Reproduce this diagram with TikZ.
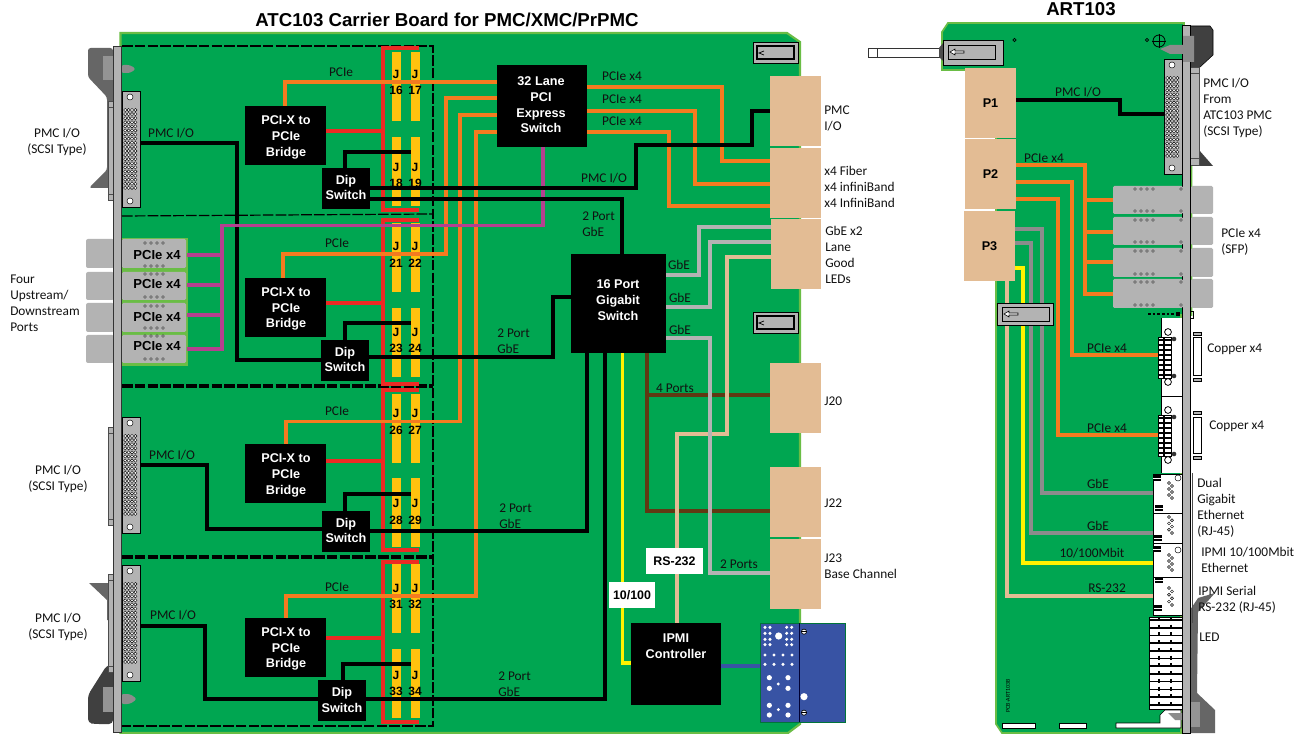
\documentclass[tikz,border=0pt]{standalone}
\usepackage{fontspec}
\setmainfont{Carlito}
\newfontfamily\arialf{Liberation Sans}
\usetikzlibrary{calc}
\definecolor{pcb}{HTML}{00A651}
\definecolor{lgreen}{HTML}{6ABD45}
\definecolor{tanb}{HTML}{E3BC94}
\definecolor{orangel}{HTML}{F47B20}
\definecolor{redl}{HTML}{ED2A24}
\definecolor{jyellow}{HTML}{FFC20E}
\definecolor{yell}{HTML}{FFF200}
\definecolor{magl}{HTML}{B5408F}
\definecolor{grayl}{HTML}{B3B3B3}
\definecolor{grayd}{HTML}{8C8C8C}
\definecolor{brownl}{HTML}{603913}
\definecolor{bluep}{HTML}{3853A4}
\definecolor{inkt}{HTML}{111111}
\pgfdeclarelayer{board}\pgfdeclarelayer{conn}
\pgfsetlayers{board,conn,main}
\tikzset{
 ln/.style={line width=2.3pt,line join=miter},
 blk/.style={ln,black},
 org/.style={ln,orangel},
 rd/.style={ln,redl},
 mg/.style={ln,magl},
 gy/.style={ln,grayl},
 gd/.style={ln,grayd},
 br/.style={ln,brownl},
 ye/.style={ln,yell},
 tl/.style={ln,tanb},
 bl/.style={ln,bluep},
 dsh/.style={line width=0.9pt,black,dash pattern=on 8pt off 1.6pt},
 box/.style={fill=black,text=white,align=center,font=\arialf\bfseries\fontsize{9.5}{12}\selectfont},
 boxt/.style={inner sep=0pt,text=white,align=center,font=\arialf\bfseries\fontsize{9.5}{11.8}\selectfont},
 tanblk/.style={fill=tanb,align=center,font=\arialf\bfseries\fontsize{9.5}{12}\selectfont},
 jbar/.style={fill=jyellow},
 jt/.style={inner sep=0pt,font=\arialf\bfseries\fontsize{9}{11}\selectfont,text=black},
 lb/.style={inner sep=0pt,text=inkt,font=\fontsize{10}{12}\selectfont},
 ll/.style={lb,anchor=west,align=left},
 lc/.style={lb,align=center},
 bt/.style={inner sep=0pt,text=black,font=\arialf\bfseries\fontsize{9.8}{12}\selectfont},
 sfp/.style={fill=grayl,rounded corners=1pt},
 wbox/.style={fill=white,text=black,font=\arialf\bfseries\fontsize{9.3}{12}\selectfont},
 hd/.style={inner sep=0pt,text=black,font=\arialf\bfseries\fontsize{14}{16}\selectfont},
 pin/.style={draw=black,fill=white,line width=.35pt},
 spin/.style={draw=black,fill=white,line width=.3pt},
}
\newcommand\bx[7]{\node[#1,inner sep=0pt,outer sep=0pt,minimum width={(#5-#3)*0.75pt},minimum height={(#6-#4)*0.75pt}] (#2) at ({(#3+#5)/2},{(#4+#6)/2}) {#7};}
\newcommand\fourdots[3]{\foreach \k in {0,1,2,3}{\draw[pin] ({#1+\k*#3},#2) circle[radius=1.4];}}
\newcommand\scsi[3]{%
 \draw[fill=grayl,draw=black,line width=.5pt] (#1,#2) rectangle (#1+18,#3);
 \draw[pin] (#1+8,#2+6) circle[radius=3];
 \draw[pin] (#1+8,#3-6) circle[radius=3];
 \foreach \i in {0,...,19}{\foreach \c in {0,1,2,3}{
   \draw[spin] ({#1+3.2+\c*3.4},{#2+19+\i*4.1}) circle[radius=1.6];}}
}
\newcommand\latchh[5]{\draw[fill=grayl,draw=black,line width=.5pt] (#1,#2) rectangle (#3,#4);
 \draw[fill=grayl,draw=black,line width=.9pt] (#1+4,#2+4) rectangle (#3-4,#4-4);
 #5}
\newcommand\backp[2]{\draw[fill=grayl,draw=black!70,line width=.5pt] (108,#1) rectangle (113,#2);
 \draw[fill=grayl,draw=black!70,line width=.5pt] (108,#1) rectangle (113,#1+6);
 \draw[fill=grayl,draw=black!70,line width=.5pt] (108,#2-6) rectangle (113,#2);}
\newcommand\copper[2]{%
 \draw[fill=white,draw=black,line width=.5pt] (1158,#1) rectangle (1171,#2);
 \foreach \u in {0,...,7}{\draw[black,line width=.9pt] (1158,{#1+3+\u*5}) -- (1171,{#1+3+\u*5});}
 \draw[black,line width=1.5pt] (1164,#1) -- (1164,#2);
 \draw[draw=black,fill=white,line width=.6pt] (1168,#1-5) circle[radius=3.4];
 \draw[draw=black,fill=white,line width=.6pt] (1168,#2+4) circle[radius=3.4];
 \fill[black!80] (1174,#1+2) circle[radius=2.3];
 \fill[black!80] (1174,#2-2) circle[radius=2.3];}
\newcommand\rjpins[2]{\foreach \i in {0,...,5}{\draw[pin] ({1169+mod(\i,2)*3},{#1+\i*(#2-#1)/5}) circle[radius=1.5];}}
\newcommand\blob[2]{\fill[black] (#1-4,#2-3) rectangle (#1+4,#2+3);\draw[white,line width=.3pt] (#1-4,#2) -- (#1+4,#2);}
\begin{document}
\begin{tikzpicture}[x=0.75pt,y=-0.75pt]
\useasboundingbox (0,0) rectangle (1307,734);
\begin{pgfonlayer}{board}
\fill[white] (0,0) rectangle (1307,734);
\draw[fill=pcb,draw=lgreen,line width=1.6pt] (120.5,33) -- (787,33) -- (800,42) -- (800,724) -- (788,733) -- (120.5,733) -- cycle;
\fill[black!60,rounded corners=2pt] (113,48) -- (88,48) -- (88,77) -- (107,97) -- (107,170) -- (89,188) -- (113,188) -- cycle;
\fill[black!42] (103,56) rectangle (113,80);
\fill[black!60] (89,583) -- (113,583) -- (113,620) -- (107,620) -- (107,600) -- cycle;
\fill[black!75,rounded corners=3pt] (113,665) -- (107,665) -- (88,695) -- (88,723) -- (95,724) -- (113,724) -- cycle;
\fill[black!42] (103,687) rectangle (113,712);
\fill[black!45,rounded corners=2pt] (121,65) -- (130,65) -- (136,69) -- (130,73) -- (121,73) -- cycle;
\fill[black!45,rounded corners=2pt] (121,694) -- (130,694) -- (137,699) -- (130,704) -- (121,704) -- cycle;
\backp{101}{200}\backp{427}{525}\backp{574}{672}
\foreach \a/\b in {239/268,272/300,303/332,335/363}{\fill[grayl,rounded corners=1.5pt] (86,\a) rectangle (114,\b);}
\draw[fill=grayl,draw=black!80,line width=.7pt] (113.5,46) rectangle (121,732);
\draw[dsh] (122,46) -- (433,46) -- (433,726) -- (122,726);
\draw[dsh] (122,216) -- (433,214);
\draw[dsh] (122,385) -- (433,385);
\draw[dsh] (122,387) -- (433,387);
\draw[dsh] (122,556) -- (433,556);
\draw[dsh] (122,558) -- (433,558);
\bx{jbar}{j16}{392}{52}{401}{121}{}\bx{jbar}{j17}{411}{52}{420}{121}{}
\bx{jbar}{j18}{392}{137}{401}{206}{}\bx{jbar}{j19}{411}{137}{420}{206}{}
\bx{jbar}{j21}{392}{223}{401}{292}{}\bx{jbar}{j22}{411}{223}{420}{292}{}
\bx{jbar}{j23}{392}{308}{401}{377}{}\bx{jbar}{j24}{411}{308}{420}{377}{}
\bx{jbar}{j26}{392}{394}{401}{463}{}\bx{jbar}{j27}{411}{394}{420}{463}{}
\bx{jbar}{j28}{392}{478}{401}{547}{}\bx{jbar}{j29}{411}{478}{420}{547}{}
\bx{jbar}{j31}{392}{564}{401}{633}{}\bx{jbar}{j32}{411}{564}{420}{633}{}
\bx{jbar}{j33}{392}{649}{401}{718}{}\bx{jbar}{j34}{411}{649}{420}{718}{}
\foreach \a/\b in {48/210,220/384,390/550,562/722}{\draw[rd] (419,\a) -- (383,\a) -- (383,\b) -- (419,\b);}
\scsi{122}{91}{207}\scsi{122}{417}{533}\scsi{122}{565}{681}
\fill[lgreen] (122,238) rectangle (187.5,366);
\latchh{753}{42}{798}{63}{\draw[black,line width=.5pt] (764,51) -- (759,53) -- (764,55);}
\latchh{753}{312}{798}{333}{\draw[black,line width=.5pt] (764,321) -- (759,323) -- (764,325);}
\draw[fill=bluep,draw=pcb!70!black,line width=.5pt] (760,623) rectangle (845,722);
\draw[black!80!blue,line width=.6pt] (799.5,623) -- (799.5,722);
\foreach \x/\y in {855/742,870/742,855/760,870/760,855/778,870/778,855/794,870/794,920/742,935/742,920/760,935/760,920/778,935/778,920/794,935/794,855/825,882/825,909/825,936/825,855/853,882/853,909/853,936/853}
 {\fill[white] ({480+\x/3},{380+\y/3}) circle[radius=1.7];}
\foreach \x/\y in {868/893,924/893,868/925,924/925,868/976,924/976,868/1005,924/1005}
 {\fill[white] ({480+\x/3},{380+\y/3}) circle[radius=2.6];}
\foreach \x/\y in {895/912,895/989}{\fill[white] ({480+\x/3},{380+\y/3}) circle[radius=1.6];}
\fill[white] ({480+896/3},{380+768/3}) circle[radius=3.6];
\fill[white] ({480+972/3},{380+950/3}) circle[radius=3.6];
\foreach \y in {755,998}{\draw[fill=white,draw=black,line width=.5pt] ({480+972/3},{380+\y/3}) circle[radius=2.6];
 \draw[black,line width=.3pt] ({480+972/3-2.6},{380+\y/3}) -- ({480+972/3+2.6},{380+\y/3});}
\draw[fill=black!75] (1190,26) -- (1210,26) -- (1213,30) -- (1213,55) -- (1199,68) -- (1190,68) -- cycle;
\fill[black!75] (1199,150) -- (1213,166) -- (1199,166) -- cycle;
\draw[fill=pcb,draw=lgreen,line width=1.3pt] (948,23) -- (1184,23) -- (1184,166) -- (1191.5,166) -- (1191.5,315) -- (1181,315) -- (1181,733) -- (1002,733) -- (996,724) -- (996,70) -- (942,70) -- (942,32) -- cycle;
\fill[black!60] (1190,610) -- (1198,598) -- (1215,593) -- (1198,612) -- (1197,693) -- (1215,710) -- (1215,733) -- (1190,733) -- cycle;
\fill[black!42] (1190,702) rectangle (1200,727);
\draw[fill=grayl,draw=black!70,line width=.5pt] (1190,67) rectangle (1199,165);
\draw[fill=grayl,draw=black!70,line width=.5pt] (1190,67) rectangle (1199,73);
\draw[fill=grayl,draw=black!70,line width=.5pt] (1190,158) rectangle (1199,165);
\draw[fill=grayl,draw=black,line width=.7pt] (1182.5,25) rectangle (1190,733);
\fill[black!45] (1160,49) -- (1170,45) -- (1183,45) -- (1183,36) -- (1194,36) -- (1194,62) -- (1183,62) -- (1183,54) -- (1170,54) -- cycle;
\draw[black,line width=.5pt] (1014.5,40) circle[radius=1.7];
\draw[black,line width=.5pt] (1147,40) circle[radius=1.7];
\draw[black,line width=.6pt] (1159,41) circle[radius=6];
\draw[black,line width=.6pt] (1152,41) -- (1166,41) (1159,34) -- (1159,48);
\draw[fill=white,draw=black!80,line width=.7pt] (868,48) rectangle (941,57);
\draw[fill=white,draw=black!80,line width=.6pt] (868,48) rectangle (877,57);
\fill[black!70] (939,48) -- (943,43) -- (943,61) -- (939,57) -- cycle;
\draw[fill=grayl,draw=black,line width=.6pt] (943,40) rectangle (1003,65);
\draw[fill=grayl,draw=black,line width=.7pt] (948,45) rectangle (995,59);
\draw[fill=white,draw=black,line width=.4pt] (950,52) -- (955,49) -- (955,51) -- (964,51) -- (964,53) -- (955,53) -- (955,55) -- cycle;
\foreach \a/\b in {186/214,217/245,248/277,279/308}{
 \fill[sfp] (1113,\a) rectangle (1183,\b);
 \fill[sfp] (1191,\a) rectangle (1213,\b);
 \fourdots{1135}{\a+3}{6}\fourdots{1135}{\b-3}{6}
 \draw[pin] (1181,\a+3) circle[radius=1.4];\draw[pin] (1181,\b-3) circle[radius=1.4];}
\draw[black,line width=1.8pt,dash pattern=on 2pt off 1.5pt] (1148,314) -- (1175,314);
\fill[black] (1176,312) rectangle (1180,316);
\draw[black,line width=.5pt] (1190,311) rectangle (1193,318);
\scsi{1164}{59}{174}
\fill[white] (1161.5,318) rectangle (1182,473);
\draw[black,line width=.6pt] (1161.5,318) -- (1161.5,473);
\draw[black,line width=.6pt] (1161.5,396) -- (1182,396);
\copper{337}{378}\copper{415}{456}
\draw[fill=white,draw=black,line width=.6pt] (1193,337) rectangle (1201,375);
\draw[fill=grayl,draw=black,line width=.5pt] (1193,332) rectangle (1201,335);
\draw[fill=grayl,draw=black,line width=.5pt] (1193,378) rectangle (1201,381);
\draw[fill=white,draw=black,line width=.6pt] (1193,417) rectangle (1201,453);
\draw[fill=grayl,draw=black,line width=.5pt] (1193,411) rectangle (1201,414);
\draw[fill=grayl,draw=black,line width=.5pt] (1193,456) rectangle (1201,459);
\foreach \a/\b in {474/513,513/543,543/577,577/615}{\draw[fill=white,draw=black,line width=.6pt] (1153,\a) rectangle (1182,\b);}
\rjpins{483}{498}\rjpins{517}{533}\rjpins{555}{570}\rjpins{588}{605}
\blob{1157}{478}\blob{1159}{508}\blob{1158}{538}\blob{1157}{549}\blob{1159}{580}\blob{1158}{608}
\draw[pin] (1178,478) circle[radius=3];\draw[pin] (1178,550) circle[radius=3];
\draw[black!70,line width=.5pt] (1192.5,473) -- (1192.5,623);
\draw[fill=white,draw=black,line width=.7pt] (1149,617) rectangle (1182,709);
\foreach \i in {0,...,11}{\draw[black,line width=1.2pt] (1149,{617+\i*7.7+3}) -- (1182,{617+\i*7.7+3});}
\draw[black,line width=1.8pt,dash pattern=on 3pt off 2.8pt] (1159,617) -- (1159,709);
\draw[black,line width=1.8pt,dash pattern=on 3pt off 2.8pt] (1171,617) -- (1171,709);
\foreach \a/\b in {1002/1035,1059/1086}{\draw[fill=white,draw=black,line width=.5pt] (\a,723) rectangle (\b,728);}
\draw[fill=white,draw=black,line width=.5pt] (1116,728) -- (1116,723) -- (1160,723) -- (1160,715) -- (1165,710) -- (1181,710) -- (1181,728) -- cycle;
\fill[black!45] (1168,713) -- (1182,713) -- (1182,720) -- (1175,720) -- cycle;
\end{pgfonlayer}

\bx{box}{sw32}{497}{65}{587}{147}{}
\node[boxt] (sw32t) at (541,105) {32 Lane\\PCI\\Express\\Switch};
\bx{box}{sw16}{571}{254}{666}{353}{}
\node[boxt] (sw16t) at (618,300) {16 Port\\Gigabit\\Switch};
\bx{box}{ipmi}{631}{623}{721}{705}{}
\node[boxt] (ipmit) at (676,646) {IPMI\\Controller};
\bx{box}{br1}{245}{106}{326}{165}{}
\bx{box}{br2}{245}{278}{326}{337}{}
\bx{box}{br3}{245}{444}{326}{503}{}
\bx{box}{br4}{245}{618}{326}{677}{}
\node[boxt] (br1t) at (286,137.5) {PCI-X to\\PCIe\\Bridge};
\node[boxt] (br2t) at (286,309) {PCI-X to\\PCIe\\Bridge};
\node[boxt] (br3t) at (286,475.5) {PCI-X to\\PCIe\\Bridge};
\node[boxt] (br4t) at (286,649) {PCI-X to\\PCIe\\Bridge};
\bx{box}{dip1}{322}{168}{370}{209}{}
\bx{box}{dip2}{321}{340}{369}{381}{}
\bx{box}{dip3}{322}{511}{370}{552}{}
\bx{box}{dip4}{318}{680}{366}{721}{}
\node[boxt] (dip1t) at (346,187.5) {Dip\\Switch};
\node[boxt] (dip2t) at (345,359.5) {Dip\\Switch};
\node[boxt] (dip3t) at (346,530.5) {Dip\\Switch};
\node[boxt] (dip4t) at (342,700) {Dip\\Switch};
\bx{tanblk}{t1}{770}{76}{821}{146}{}
\bx{tanblk}{t2}{770}{148}{821}{218}{}
\bx{tanblk}{t3}{771}{219}{821}{289}{}
\bx{tanblk}{t4}{770}{363}{821}{433}{}
\bx{tanblk}{t5}{770}{467}{821}{537}{}
\bx{tanblk}{t6}{770}{539}{821}{609}{}
\bx{tanblk}{p1}{965}{68}{1016}{138}{P1}
\bx{tanblk}{p2}{965}{139}{1016}{209}{P2}
\bx{tanblk}{p3}{964}{211}{1015}{281}{P3}
\coordinate (pnl) at (760,666);
\coordinate (sc1) at (140,143);
\coordinate (sc3) at (140,465);
\coordinate (sc4) at (140,626);
\coordinate (sc5) at (1164,114);
\coordinate (bus1) at (383,131);
\coordinate (bus2) at (383,303);
\coordinate (bus3) at (383,461);
\coordinate (bus4) at (383,638);
\coordinate (sfpa) at (1113,200);
\coordinate (sfpb) at (1113,232);
\coordinate (sfpc) at (1113,262);
\coordinate (sfpd) at (1113,294);
\coordinate (cpa) at (1158,355);
\coordinate (cpb) at (1158,435);
\coordinate (rja) at (1153,493);
\coordinate (rjb) at (1153,533);
\coordinate (rjc) at (1153,563);
\coordinate (rjd) at (1153,596);
\coordinate (fa) at (187,255);
\coordinate (fb) at (187,285);
\coordinate (fc) at (187,315);
\coordinate (fd) at (187,349);

\bx{sfp}{fr1}{122}{239}{186}{268}{}
\bx{sfp}{fr2}{122}{272}{186}{300}{}
\bx{sfp}{fr3}{122}{303}{186}{332}{}
\bx{sfp}{fr4}{122}{335}{186}{363}{}
\foreach \a/\b in {243/266,274/297,306/328,336/359}{\fourdots{145}{\a}{6}\fourdots{145}{\b}{6}}

\begin{pgfonlayer}{conn}
\draw[org] (br1.north -| 285,0) |- (sw32.west |- 0,82);
\draw[org] (br2.north -| 283,0) |- (446,254) |- (sw32.west |- 0,98);
\draw[org] (br3.north -| 286,0) |- (460,421.5) |- (sw32.west |- 0,115);
\draw[org] (br4.north -| 286,0) |- (476,596) |- (sw32.west |- 0,132);
\draw[org] (sw32.east |- 0,87) -| (722,161) -- (t2.west |- 0,161);
\draw[org] (sw32.east |- 0,111) -| (695,184) -- (t2.west |- 0,184);
\draw[org] (sw32.east |- 0,132) -| (669,206) -- (t2.west |- 0,206);
\draw[rd] (br1.east |- bus1) -- (bus1);
\draw[rd] (br2.east |- bus2) -- (bus2);
\draw[rd] (br3.east |- bus3) -- (bus3);
\draw[rd] (br4.east |- bus4) -- (bus4);
\draw[blk] (sc1) -| (237,360) -- (dip2.west |- 0,360);
\draw[blk] (sc3) -| (207,529) -- (dip3.west |- 0,529);
\draw[blk] (sc4) -| (205,699) -- (dip4.west |- 0,699);
\draw[mg] (sw32.south -| 543,0) |- (222,225.5) |- (fd);
\draw[mg] (222,255) -- (fa);
\draw[mg] (222,285) -- (fb);
\draw[mg] (222,315) -- (fc);
\draw[blk] (dip1.north -| 345,0) |- (j19.west |- 0,152);
\draw[blk] (dip2.north -| 345,0) |- (j24.west |- 0,323);
\draw[blk] (dip3.north -| 345,0) |- (j29.west |- 0,494);
\draw[blk] (dip4.north -| 343,0) |- (j34.west |- 0,664);
\draw[blk] (dip1.east |- 0,188) -| (636,145) -| (752,111) -- (t1.west |- 0,111);
\draw[blk] (dip1.east |- 0,199) -| (sw16.north -| 622,0);
\draw[blk] (dip2.east |- 0,357) -| (553,297) -- (sw16.west |- 0,297);
\draw[blk] (dip3.east |- 0,531) -| (sw16.south -| 587,0);
\draw[blk] (dip4.east |- 0,699) -| (sw16.south -| 605,0);
\draw[br] (sw16.south -| 647,0) |- (t5.west |- 0,511);
\draw[br] (647,395) -- (t4.west |- 0,395);
\draw[tl] (t3.west |- 0,257) -| (727,434) -| (ipmi.north -| 677,0);
\draw[gy] (sw16.east |- 0,275) -| (699,227) -- (t3.west |- 0,227);
\draw[gy] (sw16.east |- 0,307) -| (710,242) -- (t3.west |- 0,242);
\draw[gy] (sw16.east |- 0,338) -| (710,573) -- (t6.west |- 0,573);
\draw[ye] (sw16.south -| 622.5,0) |- (ipmi.west |- 0,663);
\draw[bl] (ipmi.east |- pnl) -- (pnl);
\draw[blk] (p1.east |- 0,100) -| (1120,114) -- (sc5);
\draw[org] (p2.east |- 0,165) -| (1085,294) -- (sfpd);
\draw[org] (1085,200) -- (sfpa);
\draw[org] (1085,232) -- (sfpb);
\draw[org] (1085,262) -- (sfpc);
\draw[org] (p2.east |- 0,182) -| (1072,355) -- (cpa);
\draw[org] (p2.east |- 0,199) -| (1058,435) -- (cpb);
\draw[gd] (p3.east |- 0,229) -| (1042,493) -- (rja);
\draw[gd] (p3.east |- 0,243) -| (1031,533) -- (rjb);
\draw[ye] (p3.east |- 0,268) -| (1023,563) -- (rjc);
\draw[tl] (p3.south -| 1007,0) |- (rjd);
\end{pgfonlayer}
\draw[fill=grayl,draw=black,line width=.6pt] (997,303) rectangle (1053,325);
\draw[fill=grayl,draw=black,line width=.7pt] (1002,307) rectangle (1049,321);
\draw[fill=white,draw=black,line width=.4pt] (1004,314) -- (1009,311) -- (1009,313) -- (1018,313) -- (1018,315) -- (1009,315) -- (1009,317) -- cycle;

\bx{wbox}{rs}{646}{548}{703}{574}{RS-232}
\bx{wbox}{ten}{609}{582}{655}{608}{10/100}

\foreach \n/\xx/\ya/\yb/\t in {a/396/74/90/16,b/415/74/90/17,c/396/167/183/18,d/415/167/183/19,e/396/246/263/21,f/415/246/263/22,g/396/332/348/23,h/415/332/348/24,i/396/413/430/26,k/415/413/430/27,l/396/503/520/28,m/415/503/520/29,n/396/588/604/31,o/415/588/604/32,p/396/675/691/33,q/415/675/691/34}
 {\node[jt] (jl\n) at (\xx,\ya) {J};\node[jt] (jn\n) at (\xx,\yb) {\t};}

\node[bt] (fl1) at (157,255) {PCIe x4};
\node[bt] (fl2) at (157,284) {PCIe x4};
\node[bt] (fl3) at (157,317) {PCIe x4};
\node[bt] (fl4) at (157,346) {PCIe x4};

\node[hd] (title1) at (447,20) {ATC103 Carrier Board for PMC/XMC/PrPMC};
\node[hd] (title2) at (1081,9) {ART103};

\node[lc] (a1) at (57,142) {PMC I/O\\(SCSI Type)};
\node[lc] (a2) at (58,479) {PMC I/O\\(SCSI Type)};
\node[lc] (a3) at (58,627) {PMC I/O\\(SCSI Type)};
\node[ll] (a4) at (10,303) {Four\\Upstream/\\Downstream\\Ports};
\node[lb] (b1) at (171,133) {PMC I/O};
\node[lb] (b2) at (172,455) {PMC I/O};
\node[lb] (b3) at (173,615) {PMC I/O};
\node[lb] (b4) at (341,72) {PCIe};
\node[lb] (b5) at (337,243) {PCIe};
\node[lb] (b6) at (337,411) {PCIe};
\node[lb] (b7) at (337,587) {PCIe};
\node[lb] (b8) at (604,178) {PMC I/O};
\node[ll] (b9) at (582,224) {2 Port\\GbE};
\node[ll] (b10) at (497,341) {2 Port\\GbE};
\node[ll] (b11) at (499,516) {2 Port\\GbE};
\node[ll] (b12) at (498,684) {2 Port\\GbE};
\node[lb] (b13) at (679,265) {GbE};
\node[lb] (b14) at (680,298) {GbE};
\node[lb] (b15) at (680,330) {GbE};
\node[lb] (b16) at (675,388) {4 Ports};
\node[lb] (b17) at (739,564) {2 Ports};
\node[lb] (b18) at (622,76) {PCIe x4};
\node[lb] (b19) at (622,99) {PCIe x4};
\node[lb] (b20) at (622,121) {PCIe x4};
\node[ll] (c1) at (824,118) {PMC\\I/O};
\node[ll] (c2) at (824,187) {x4 Fiber\\x4 infiniBand\\x4 InfiniBand};
\node[ll] (c3) at (825,255) {GbE x2\\Lane\\Good\\LEDs};
\node[ll] (c4) at (824,401) {J20};
\node[ll] (c5) at (824,503) {J22};
\node[ll] (c6) at (824,566) {J23\\Base Channel};
\node[lb] (d1) at (1078,92) {PMC I/O};
\node[lb] (d2) at (1044,158) {PCIe x4};
\node[ll] (d3) at (1203,108) {PMC I/O\\From\\ATC103 PMC\\(SCSI Type)};
\node[ll] (d4) at (1221,242) {PCIe x4\\(SFP)};
\node[ll] (d5) at (1207,349) {Copper x4};
\node[ll] (d6) at (1209,426) {Copper x4};
\node[lb] (d7) at (1107,348) {PCIe x4};
\node[lb] (d8) at (1107,428) {PCIe x4};
\node[lb] (d9) at (1098,484) {GbE};
\node[lb] (d10) at (1098,526) {GbE};
\node[lb] (d11) at (1092,553) {10/100Mbit};
\node[lb] (d12) at (1107,588) {RS-232};
\node[ll] (d13) at (1197,508) {Dual\\Gigabit\\Ethernet\\(RJ-45)};
\node[ll] (d14) at (1201,560) {IPMI 10/100Mbit\\Ethernet};
\node[ll] (d15) at (1198,600) {IPMI Serial\\RS-232 (RJ-45)};
\node[ll] (d16) at (1199,637) {LED};
\node[inner sep=0pt,rotate=90,text=black,font=\fontsize{4.4}{5}\selectfont] (d17) at (1008,696) {PCB-ART103B};
\end{tikzpicture}
\end{document}
